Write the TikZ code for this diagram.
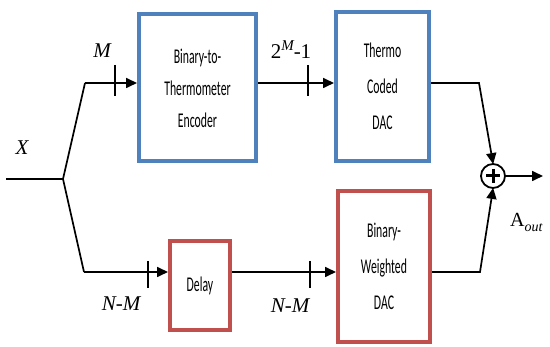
\documentclass[tikz,border=0pt]{standalone}
\usepackage{fontspec}
\setmainfont{Liberation Serif}
\newfontfamily\blockfont[FakeStretch=0.56]{Carlito}
\usetikzlibrary{arrows.meta}
\definecolor{encblue}{RGB}{79,129,189}
\definecolor{delred}{RGB}{192,80,77}

\begin{document}
\begin{tikzpicture}[x=1pt,y=-1pt,
	blk/.style={draw,line width=4pt,fill=white,align=center,inner sep=0pt},
	bus/.style={line width=1.7pt},
	arr/.style={bus,-{Triangle[length=11pt,width=10pt]}},
	lbl/.style={font=\fontsize{21}{24}\selectfont\itshape,inner sep=0pt}]
	\useasboundingbox (0,0) rectangle (550,347);
	% blocks
	\node[blk,draw=encblue,minimum width=117pt,minimum height=147pt,font=\blockfont\fontsize{21}{32}\selectfont] (enc) at (197.5,88){Binary-to-\\Thermometer\\Encoder};
	\node[blk,draw=encblue,minimum width=93pt,minimum height=149pt,font=\blockfont\fontsize{21}{36}\selectfont] (thermo) at (382.5,86.5){Thermo\\Coded\\DAC};
	\node[blk,draw=delred,minimum width=60pt,minimum height=89pt,font=\blockfont\fontsize{21}{32}\selectfont] (del) at (200,286){Delay};
	\node[blk,draw=delred,minimum width=92pt,minimum height=151pt,font=\blockfont\fontsize{21}{36}\selectfont] (bw) at (384,266.5){Binary-\\Weighted\\DAC};
	\node[draw,circle,line width=1.8pt,minimum size=24pt,inner sep=0pt] (sum) at (493,176){};
	\draw[line width=3pt] (sum.center) ++(-7,0) -- ++(14,0);
	\draw[line width=3pt] (sum.center) ++(0,-7) -- ++(0,14);
	% wires
	\coordinate (xin) at (6,179);
	\coordinate (fork) at (63,179);
	\coordinate (up) at (85,83);
	\coordinate (dn) at (84,272);
	\coordinate (tbend) at (479,83);
	\coordinate (bbend) at (480,272);
	\coordinate (aout) at (543,176);
	\draw[bus] (xin) -- (fork) -- (up);
	\draw[bus] (fork) -- (dn);
	\draw[arr] (up) -- (up -| enc.west);
	\draw[arr] (dn) -- (dn -| del.west);
	\draw[arr] (enc.east |- up) -- (thermo.west |- up);
	\draw[arr] (del.east |- dn) -- (bw.west |- dn);
	\draw[arr,shorten >=-1pt] (thermo.east |- up) -- (tbend) -- (sum.north);
	\draw[arr,shorten >=-1pt] (bw.east |- dn) -- (bbend) -- (sum.south);
	\draw[arr] (sum.east) -- (aout);
	% bus width ticks
	\coordinate (t1) at (115,83);
	\coordinate (t2) at (308,83);
	\coordinate (t3) at (148,272);
	\coordinate (t4) at (310,272);
	\draw[bus] ([yshift=18pt]t1) -- ([yshift=-13pt]t1);
	\draw[bus] ([yshift=18pt]t2) -- ([yshift=-13pt]t2);
	\draw[bus] ([yshift=11pt]t3) -- ([yshift=-16pt]t3);
	\draw[bus] ([yshift=11pt]t4) -- ([yshift=-16pt]t4);
	% labels
	\node[lbl] (xlbl) at (22,148){X};
	\node[lbl] (mlbl) at (102,51){M};
	\node[lbl,font=\fontsize{21}{24}\selectfont] (thlbl) at (291,50){2\raisebox{8pt}{\fontsize{15}{15}\selectfont\itshape M}-1};
	\node[lbl] (nm1) at (121,304){N-M};
	\node[lbl] (nm2) at (290,306){N-M};
	\node[lbl,font=\fontsize{20}{24}\selectfont,anchor=west] (alb) at (510,222){A\raisebox{-5pt}{\fontsize{14}{14}\selectfont\itshape out}};
\end{tikzpicture}
\end{document}
